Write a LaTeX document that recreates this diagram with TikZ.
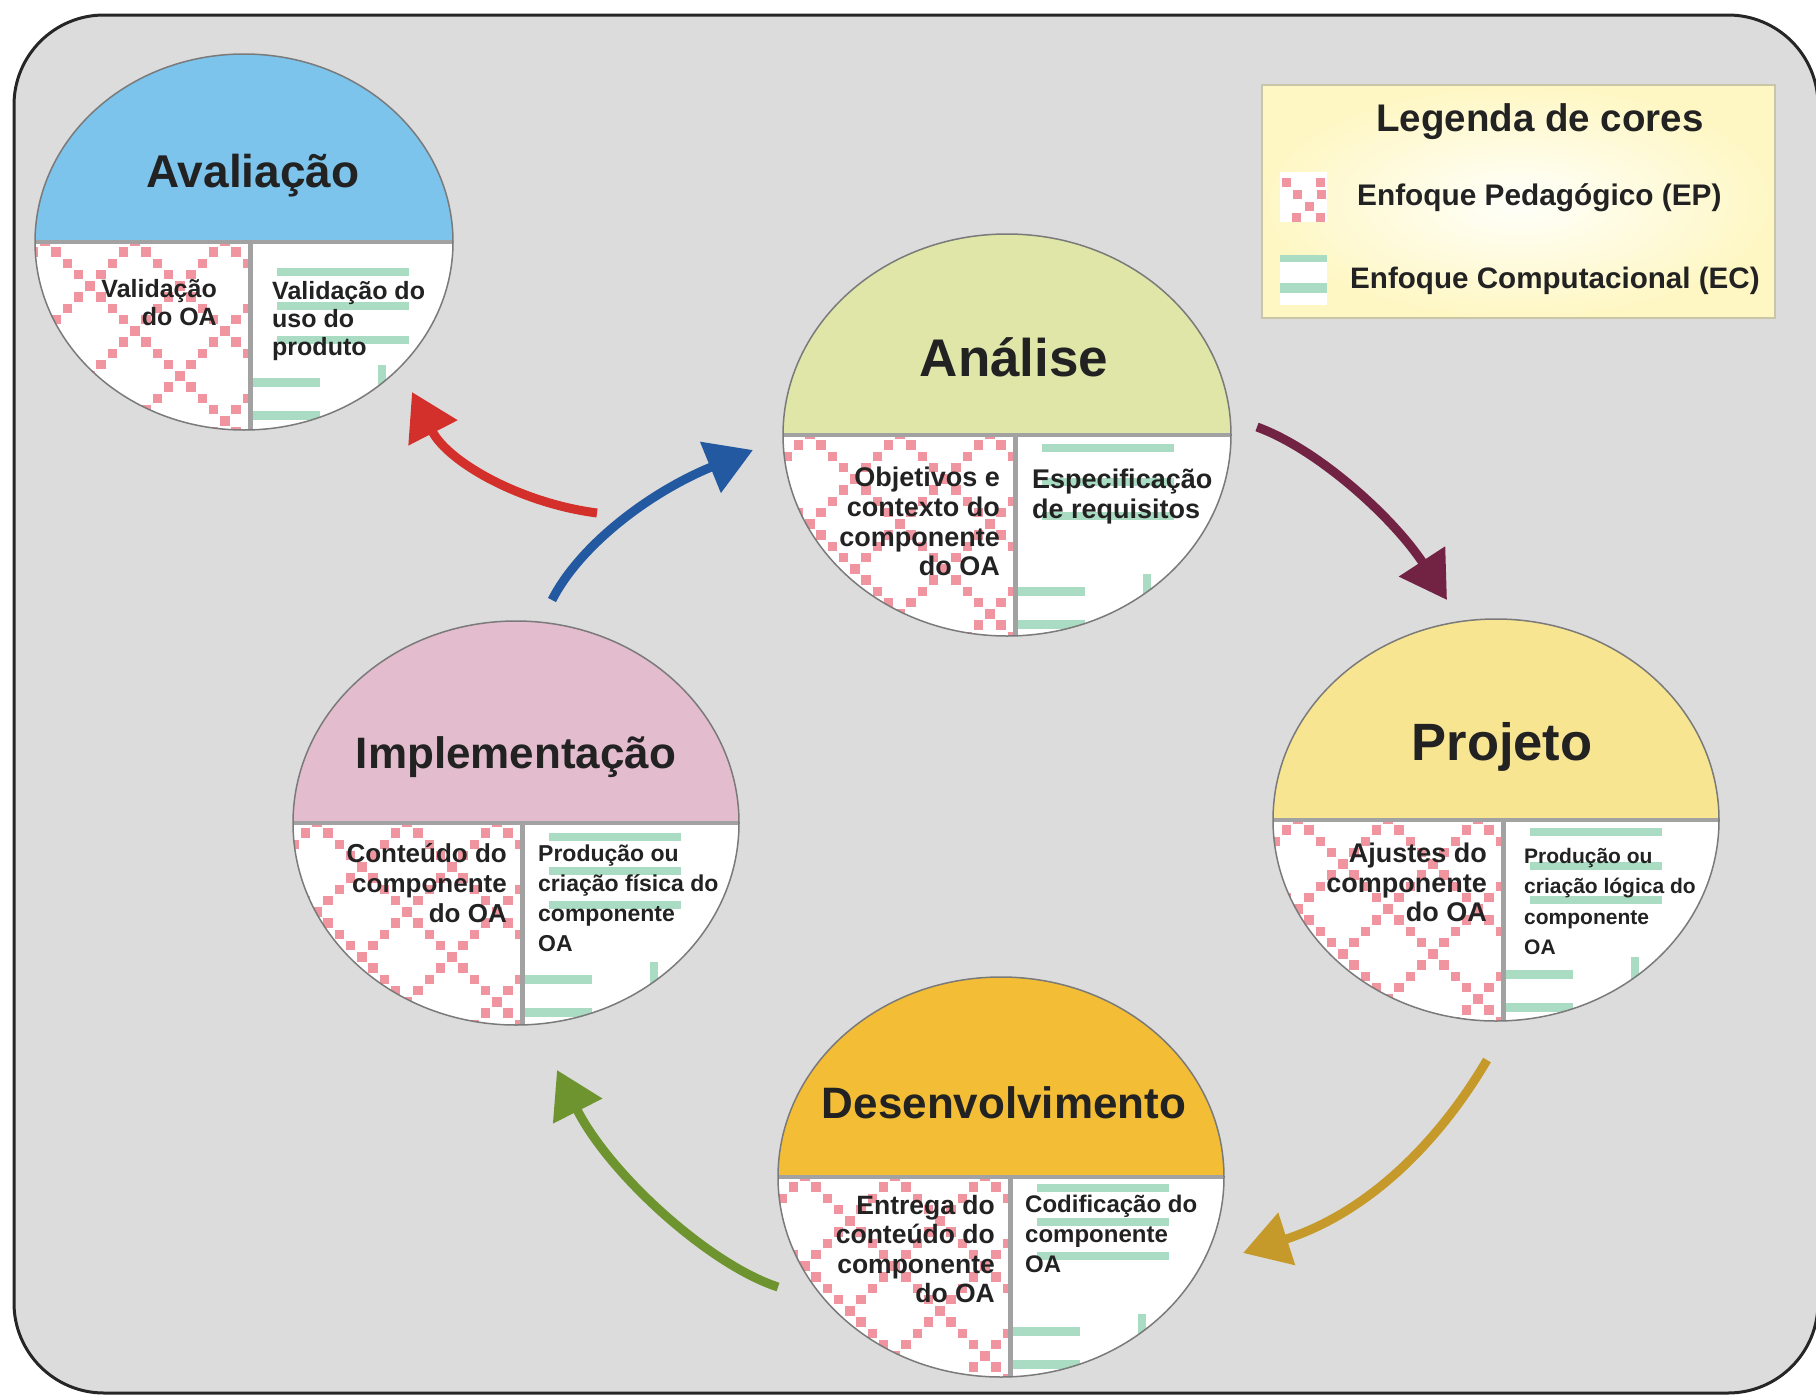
\documentclass[tikz,border=0pt]{standalone}
\usepackage{fontspec}
\setmainfont{Liberation Sans}
\usetikzlibrary{arrows.meta}
\definecolor{bgc}{HTML}{DCDCDC}
\definecolor{txtc}{HTML}{222222}
\definecolor{avc}{HTML}{7DC4EC}
\definecolor{anc}{HTML}{DFE6A8}
\definecolor{prc}{HTML}{F8E592}
\definecolor{imc}{HTML}{E3BCCD}
\definecolor{dec}{HTML}{F3BE36}
\definecolor{epc}{HTML}{F0959F}
\definecolor{ecc}{HTML}{A9DCC3}
\definecolor{divc}{HTML}{A2A2A2}
\definecolor{linec}{HTML}{7A7A7A}
\definecolor{redc}{HTML}{D3302B}
\definecolor{bluec}{HTML}{2259A0}
\definecolor{maroonc}{HTML}{722343}
\definecolor{goldc}{HTML}{C59A2A}
\definecolor{greenc}{HTML}{6E9430}
\definecolor{legc}{HTML}{FEF7C4}
\definecolor{legin}{HTML}{FFFFFA}
\definecolor{legline}{HTML}{C9C6A8}
\newcommand\fs[2]{\fontsize{#1}{#2}\selectfont\bfseries}
% #1 cx, #2 cy, #3 rx, #4 ry, #5 divider x, #6 colour, #7 top bar offset, #8 bottom bar offset
\newcommand\phasebody[8]{%
  \fill[white] (#1,#2) ellipse[x radius=#3, y radius=#4];
  \begin{scope}
    \clip (#1,#2) ellipse[x radius=#3, y radius=#4];
    \fill[#6] ({#1-#3-2},{#2-#4-2}) rectangle ({#1+#3+2},#2);
    \begin{scope}
      \clip ({#1-#3-2},#2) rectangle ({#5-2},{#2+#4+2});
      \foreach \i in {-5,...,3}{\foreach \j in {0,...,19}{
        \fill[epc] ({#5+90*\i+11.25*\j-30},{#2+11.25*\j-6}) rectangle ++(9.5,9.5);
        \fill[epc] ({#5+90*\i-11.25*\j-30},{#2+11.25*\j-6}) rectangle ++(9.5,9.5);
      }}
    \end{scope}
    \begin{scope}
      \clip ({#5+2},#2) rectangle ({#1+#3+2},{#2+#4+2});
      \fill[ecc] ({#5+27},{#2+#7}) rectangle ++(132,8);
      \fill[ecc] ({#5+27},{#2+#7+34}) rectangle ++(132,8);
      \fill[ecc] ({#5+27},{#2+#7+68}) rectangle ++(132,8);
      \fill[ecc] ({#5-5},{#2+#8}) rectangle ++(75,9);
      \fill[ecc] ({#5-5},{#2+#8+33}) rectangle ++(75,9);
      \fill[ecc] ({#5+128},{#2+#8-13}) rectangle ++(8,22);
    \end{scope}
    \draw[divc, line width=4.5pt] ({#1-#3-2},#2) -- ({#1+#3+2},#2);
    \draw[divc, line width=5pt] (#5,#2) -- (#5,{#2+#4+2});
  \end{scope}
  \draw[linec, line width=1.5pt] (#1,#2) ellipse[x radius=#3, y radius=#4];
}
\tikzset{
  arr/.style={line width=9pt, -{Triangle[length=46pt,width=53pt]}},
  ttl/.style={anchor=base, inner sep=0pt, text=txtc},
  lblr/.style={anchor=north east, inner sep=0pt, align=right, text=txtc},
  lbll/.style={anchor=north west, inner sep=0pt, align=left, text=txtc},
}
\begin{document}
\begin{tikzpicture}[x=1pt,y=-1pt]
\useasboundingbox (0,0) rectangle (1816,1395);
% frame
\draw[line width=3pt, draw=black!85, fill=bgc, rounded corners=90pt] (14,15) rectangle (1818,1393);

% legend
\fill[legc] (1262,85) rectangle (1775,318);
\shade[inner color=legin, outer color=legc, shading=radial] (1262,85) rectangle (1775,318);
\draw[legline, line width=1.2pt] (1262,85) rectangle (1775,318);
\node[ttl, font=\fs{38.5}{42}] (legT) at (1540,131) {Legenda de cores};
\fill[white] (1280,172) rectangle (1327,222);
\foreach \p in {(1282,178),(1316,178),(1293,190),(1317,190),(1305,202),(1292,213),(1316,213)}{
  \fill[epc] \p rectangle ++(9,9);}
\node[ttl, anchor=base west, font=\fs{29.8}{32}] (legEP) at (1357,205) {Enfoque Pedagógico (EP)};
\fill[white] (1280,255) rectangle (1327,305);
\fill[ecc] (1280,255) rectangle (1327,262);
\fill[ecc] (1280,283) rectangle (1327,293);
\node[ttl, anchor=base west, font=\fs{29.6}{32}] (legEC) at (1350,288) {Enfoque Computacional (EC)};

% phases
\phasebody{244}{242}{209}{188}{250}{avc}{26}{136}
\phasebody{1007}{435}{224}{201}{1015}{anc}{9}{152}
\phasebody{1496}{820}{223}{201}{1503}{prc}{8}{150}
\phasebody{516}{823}{223}{202}{522}{imc}{10}{152}
\phasebody{1001}{1177}{223}{200}{1010}{dec}{7}{150}

% titles
\node[ttl, font=\fs{46}{50}] (avT) at (253,187.5) {Avaliação};
\node[ttl, font=\fs{53}{58}] (anT) at (1014,376) {Análise};
\node[ttl, font=\fs{52.5}{58}] (prT) at (1502,760) {Projeto};
\node[ttl, font=\fs{44}{50}] (imT) at (516,768) {Implementação};
\node[ttl, font=\fs{44}{50}] (deT) at (1004,1118) {Desenvolvimento};

% panel texts
\node[lblr, font=\fs{25}{28}] (avL) at (217,279) {Validação\\do OA};
\node[lbll, font=\fs{25}{28}] (avR) at (272,281) {Validação do\\uso do\\produto};
\node[lblr, font=\fs{27}{29.7}] (anL) at (1000,467) {Objetivos e\\contexto do\\componente\\do OA};
\node[lbll, font=\fs{27}{30}] (anR) at (1032,469) {Especificação\\de requisitos};
\node[lblr, font=\fs{27}{29.5}] (prL) at (1487,843) {Ajustes do\\componente\\do OA};
\node[lbll, font=\fs{21}{30.5}] (prR) at (1524,848) {Produção ou\\criação lógica do\\componente\\OA};
\node[lblr, font=\fs{26}{30}] (imL) at (507,843) {Conteúdo do\\componente\\do OA};
\node[lbll, font=\fs{23}{30}] (imR) at (538,845) {Produção ou\\criação física do\\componente\\OA};
\node[lblr, font=\fs{26.5}{29.5}] (deL) at (995,1195) {Entrega do\\conteúdo do\\componente\\do OA};
\node[lbll, font=\fs{24}{30}] (deR) at (1025,1195) {Codificação do\\componente\\OA};

% arrows
\coordinate (rT) at (597,513); \coordinate (rH) at (412,392);
\coordinate (bT) at (552,600); \coordinate (bH) at (753,450);
\coordinate (mT) at (1257,427); \coordinate (mH) at (1447,600);
\coordinate (gT) at (1487,1060); \coordinate (gH) at (1243,1253);
\coordinate (vT) at (778,1287); \coordinate (vH) at (557,1070);
\draw[arr, redc] (rT) .. controls (520,503) and (448,462) .. (rH);
\draw[arr, bluec] (bT) .. controls (580,545) and (650,492) .. (bH);
\draw[arr, maroonc] (mT) .. controls (1320,450) and (1395,520) .. (mH);
\draw[arr, goldc] (gT) .. controls (1440,1140) and (1370,1212) .. (gH);
\draw[arr, greenc] (vT) .. controls (710,1265) and (610,1175) .. (vH);
\end{tikzpicture}
\end{document}
